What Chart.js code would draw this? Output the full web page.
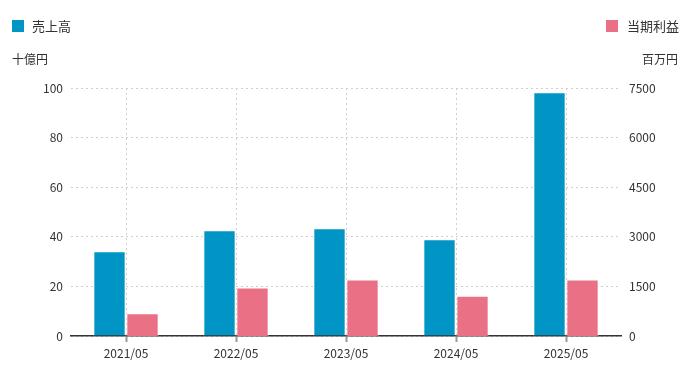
<!DOCTYPE html>
<html>
<head>
<meta charset="utf-8">
<script src="https://cdn.jsdelivr.net/npm/chart.js@4"></script>
<style>
  html, body { margin: 0; padding: 0; background: #fff; }
  #wrap { width: 684px; height: 376px; position: relative; }
</style>
</head>
<body>
<div id="wrap"><canvas id="finChart"></canvas></div>
<script>
const periods = ['2021/05', '2022/05', '2023/05', '2024/05', '2025/05'];
const sales = [34.2, 42.6, 43.4, 39.0, 98.3];       // 十億円
const netIncome = [690, 1470, 1710, 1220, 1710];   // 百万円
const salesLabel = '売上高';
const incomeLabel = '当期利益';
const leftUnit = '十億円';
const rightUnit = '百万円';

const BLUE = 'rgb(0, 149, 196)';
const PINK = 'rgb(234, 112, 133)';
const FONT = '"Noto Sans CJK JP", "Noto Sans", sans-serif';

const headerPlugin = {
    id: 'header',
    afterDraw(chart) {
        const ctx = chart.ctx;
        ctx.save();
        ctx.font = '13px ' + FONT;
        ctx.textBaseline = 'middle';
        // legend left
        ctx.fillStyle = BLUE;
        ctx.fillRect(12, 20, 12, 12);
        ctx.fillStyle = '#333';
        ctx.textAlign = 'left';
        ctx.fillText(salesLabel, 32, 26);
        // legend right
        ctx.textAlign = 'left';
        ctx.fillText(incomeLabel, 627, 26);
        ctx.fillStyle = PINK;
        ctx.fillRect(606, 20, 12, 12);
        // units
        ctx.font = '12px ' + FONT;
        ctx.fillStyle = '#333';
        ctx.textAlign = 'left';
        ctx.fillText(leftUnit, 12, 59);
        ctx.textAlign = 'right';
        ctx.fillText(rightUnit, 678, 59);
        ctx.restore();
    }
};

const ctx = document.getElementById('finChart').getContext('2d');
Chart.defaults.font.family = FONT;
Chart.defaults.font.size = 12;
Chart.defaults.color = '#333';

new Chart(ctx, {
    type: 'bar',
    data: {
        labels: periods,
        datasets: [{
            label: salesLabel,
            data: sales,
            yAxisID: 'y',
            backgroundColor: BLUE,
            borderColor: 'rgba(255, 255, 255, 0.5)',
            borderWidth: 1,
            categoryPercentage: 0.6,
            barPercentage: 0.98,
        }, {
            label: incomeLabel,
            data: netIncome,
            yAxisID: 'y1',
            backgroundColor: PINK,
            borderColor: 'rgba(255, 255, 255, 0.5)',
            borderWidth: 1,
            categoryPercentage: 0.6,
            barPercentage: 0.98,
        }]
    },
    options: {
        responsive: true,
        maintainAspectRatio: false,
        animation: false,
        layout: { padding: { top: 88, left: 0, right: 0, bottom: 0 } },
        scales: {
            x: {
                grid: {
                    offset: false,
                    color: '#cfcfcf',
                    tickColor: '#999',
                    tickLength: 6,
                    tickWidth: 2,
                    tickBorderDash: [],
                },
                border: { display: true, color: '#333', width: 1.5, dash: [2, 3] },
                ticks: { padding: 4, color: '#333' },
                afterFit(scale) { scale.height = 40; }
            },
            y: {
                position: 'left',
                min: 0, max: 100,
                ticks: { stepSize: 20, padding: 8, color: '#333' },
                grid: { color: '#cfcfcf', drawTicks: false },
                border: { display: false, dash: [2, 3] },
                afterFit(scale) { scale.width = 71; }
            },
            y1: {
                position: 'right',
                min: 0, max: 7500,
                ticks: {
                    stepSize: 1500, padding: 8, color: '#333',
                    callback: (v) => String(v)
                },
                grid: { display: false, drawTicks: false },
                border: { display: false },
                afterFit(scale) { scale.width = 63; }
            }
        },
        plugins: {
            legend: { display: false },
            tooltip: { enabled: true }
        }
    },
    plugins: [headerPlugin]
});
</script>
</body>
</html>
